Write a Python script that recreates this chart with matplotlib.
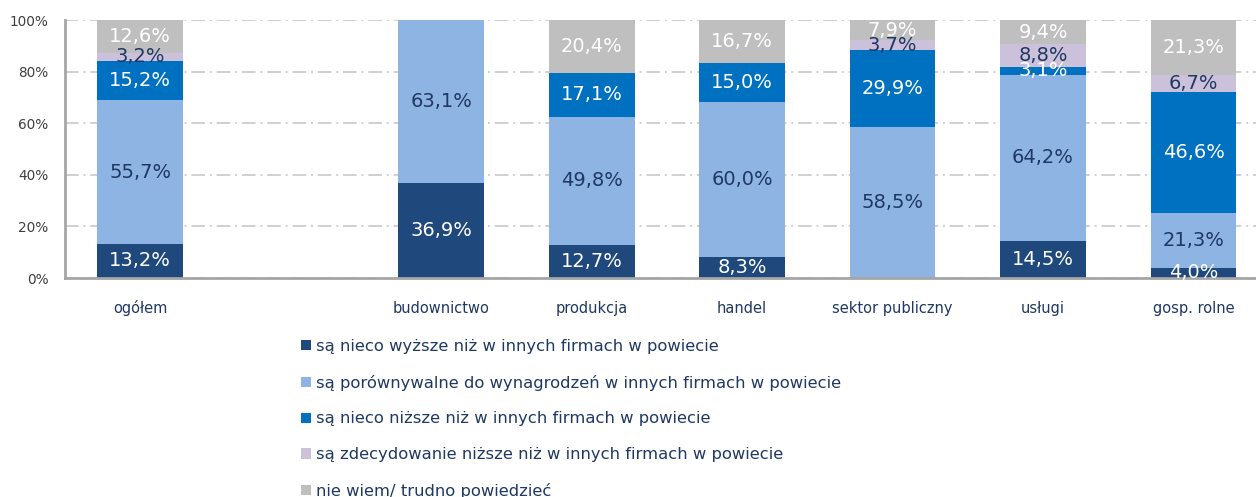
import matplotlib
matplotlib.use("Agg")
import matplotlib.pyplot as plt
from matplotlib.patches import Patch
import numpy as np

categories = ["ogółem", "", "budownictwo", "produkcja", "handel", "sektor publiczny", "usługi", "gosp. rolne"]
series_names = [
    "są nieco wyższe niż w innych firmach w powiecie",
    "są porównywalne do wynagrodzeń w innych firmach w powiecie",
    "są nieco niższe niż w innych firmach w powiecie",
    "są zdecydowanie niższe niż w innych firmach w powiecie",
    "nie wiem/ trudno powiedzieć",
]
wyzsze       = [13.2, 0, 36.9, 12.7, 8.3, 0.0, 14.5, 4.0]
porownywalne = [55.7, 0, 63.1, 49.8, 60.0, 58.5, 64.2, 21.3]
nizsze       = [15.2, 0, 0.0, 17.1, 15.0, 29.9, 3.1, 46.6]
zdecydowanie = [3.2, 0, 0.0, 0.0, 0.0, 3.7, 8.8, 6.7]
nie_wiem     = [12.6, 0, 0.0, 20.4, 16.7, 7.9, 9.4, 21.3]
yticks = [0, 20, 40, 60, 80, 100]

series = [wyzsze, porownywalne, nizsze, zdecydowanie, nie_wiem]
colors = ["#1F487C", "#8EB4E3", "#0070C0", "#CCC1DA", "#BFBFBF"]
label_colors = ["white", "#1F3864", "white", "#1F3864", "white"]
navy_text = "#1F3864"

fig = plt.figure(figsize=(12.56, 4.97), dpi=100)
ax = fig.add_axes([65/1256, 1 - 278/497, 1 - 65/1256, (278 - 20)/497])

x = np.arange(len(categories))
bottom = np.zeros(len(categories))
for vals, col, lc in zip(series, colors, label_colors):
    v = np.array(vals, dtype=float)
    ax.bar(x, v, width=0.57, bottom=bottom, color=col, zorder=2)
    for xi, (b, h) in enumerate(zip(bottom, v)):
        if h > 0:
            ax.text(xi, b + h / 2, f"{h:.1f}%".replace(".", ","), ha="center", va="center",
                    color=lc, fontsize=14, zorder=3)
    bottom += v

ax.set_xlim(-0.5, (1256 - 140) / 150.5)
ax.set_ylim(0, 100)
ax.set_yticks(yticks)
ax.set_yticklabels([f"{t}%" for t in yticks], fontsize=9.8, color="#404040")
ax.set_xticks(x)
ax.set_xticklabels([])
for xi, c in zip(x, categories):
    ax.text(xi, -13.4, c, ha="center", va="baseline", fontsize=10.5, color=navy_text)
ax.tick_params(axis="both", length=0)
ax.tick_params(axis="y", pad=12)
ax.yaxis.grid(True, color="#D0D0D0", linestyle=(0, (7, 2.5, 1, 2.5)), linewidth=1.4, zorder=0)
ax.set_axisbelow(True)
for s in ["top", "right"]:
    ax.spines[s].set_visible(False)
for s in ["left", "bottom"]:
    ax.spines[s].set_color("#A6A6A6")
    ax.spines[s].set_linewidth(2)

handles = [Patch(facecolor=c, edgecolor="none") for c in colors]
leg = fig.legend(handles, series_names, loc="upper left", bbox_to_anchor=(301/1256, 1 - 339/497),
                 frameon=False, fontsize=11.75, handlelength=0.6, handleheight=0.6,
                 handletextpad=0.3, labelspacing=1.27, borderaxespad=0, borderpad=0)
for t in leg.get_texts():
    t.set_color(navy_text)

fig.savefig("out.png", dpi=100)
